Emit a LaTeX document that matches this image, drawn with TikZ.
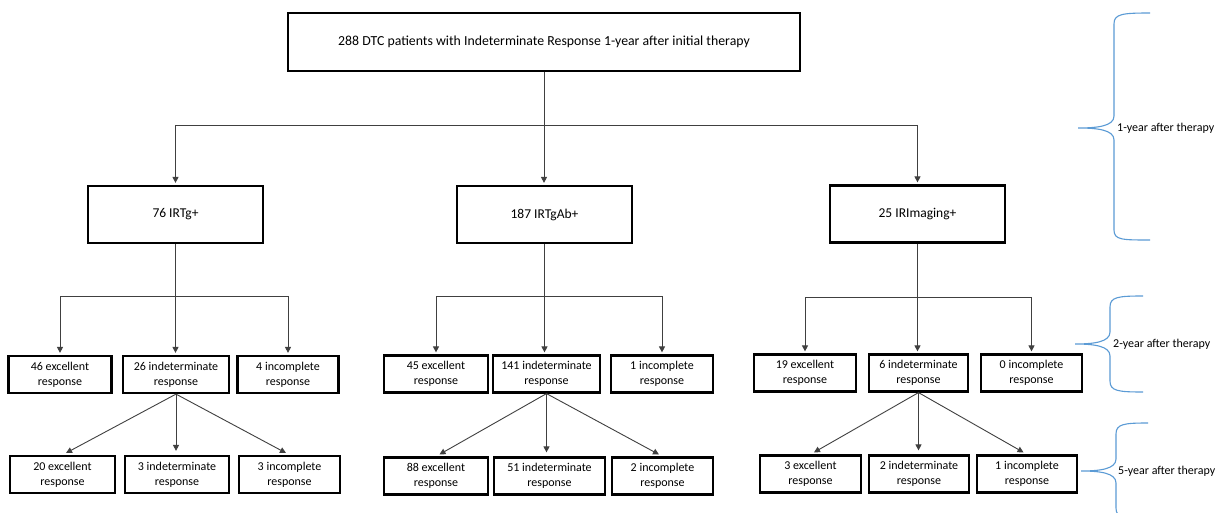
\documentclass[tikz,border=0pt]{standalone}
\usepackage{fontspec}
\setmainfont{Carlito}
\usetikzlibrary{arrows.meta}
\definecolor{bracecol}{HTML}{5B9BD5}
\definecolor{conncol}{HTML}{404040}
\begin{document}
\begin{tikzpicture}[x=1pt,y=-1pt,
  box/.style={draw=black, line width=2.2pt, fill=white, align=center, inner sep=0pt},
  topbox/.style={box, font=\fontsize{13.8}{16}\selectfont},
  midbox/.style={box, minimum width=175, minimum height=57, font=\fontsize{13.5}{16}\selectfont},
  smallbox/.style={box, minimum height=37, font=\fontsize{12}{15}\selectfont},
  conn/.style={draw=conncol, line width=0.9pt},
  arr/.style={conn, -{Triangle[length=6pt,width=6pt]}, shorten >=2pt},
  darr/.style={arr, shorten >=4pt},
  brace/.style={draw=bracecol, line width=1.1pt},
  lbl/.style={anchor=west, inner sep=0pt, font=\fontsize{12}{15}\selectfont}]
\fill[white] (0,0) rectangle (1221,513);
\clip (0,0) rectangle (1221,513);

% top
\node[topbox, minimum width=512, minimum height=58] (top) at (544,42)
  {288 DTC patients with Indeterminate Response 1-year after initial therapy};

% level 1
\node[midbox] (l1a) at (175.5,214.5) {76 IRTg+};
\node[midbox] (l1b) at (544.5,214.5) {187 IRTgAb+};
\node[midbox] (l1c) at (917.5,214) {25 IRImaging+};

% level 2
\node[smallbox, minimum width=103] (a1) at (60,374.5) {46 excellent\\response};
\node[smallbox, minimum width=106] (a2) at (176,374.5) {26 indeterminate\\response};
\node[smallbox, minimum width=101] (a3) at (288,374.5) {4 incomplete\\response};
\node[smallbox, minimum width=104] (b1) at (436,374) {45 excellent\\response};
\node[smallbox, minimum width=107] (b2) at (546.5,374) {141 indeterminate\\response};
\node[smallbox, minimum width=102] (b3) at (662,374) {1 incomplete\\response};
\node[smallbox, minimum width=102] (c1) at (805,373) {19 excellent\\response};
\node[smallbox, minimum width=99] (c2) at (918.5,373) {6 indeterminate\\response};
\node[smallbox, minimum width=101] (c3) at (1031.5,373) {0 incomplete\\response};

% level 3
\node[smallbox, minimum width=105] (a4) at (62.5,474.5) {20 excellent\\response};
\node[smallbox, minimum width=104] (a5) at (177,474.5) {3 indeterminate\\response};
\node[smallbox, minimum width=101] (a6) at (289.5,474.5) {3 incomplete\\response};
\node[smallbox, minimum width=104] (b4) at (436,476) {88 excellent\\response};
\node[smallbox, minimum width=111] (b5) at (549.5,476) {51 indeterminate\\response};
\node[smallbox, minimum width=101] (b6) at (662.5,476) {2 incomplete\\response};
\node[smallbox, minimum width=101] (c4) at (810.5,474) {3 excellent\\response};
\node[smallbox, minimum width=100] (c5) at (919,474) {2 indeterminate\\response};
\node[smallbox, minimum width=100] (c6) at (1027,474) {1 incomplete\\response};

% top -> level 1
\draw[conn] (top.south) -- (top.south |- 0,125);
\draw[conn] (l1a.north |- 0,125) -- (l1c.north |- 0,125);
\draw[arr] (l1a.north |- 0,125) -- (l1a.north);
\draw[arr] (top.south |- 0,125) -- (top.south |- l1b.north);
\draw[arr] (l1c.north |- 0,125) -- (l1c.north);

% level 1 -> level 2
\draw[conn] (l1a.south) -- (l1a.south |- 0,296);
\draw[conn] (a1.north |- 0,296) -- (a3.north |- 0,296);
\draw[arr] (a1.north |- 0,296) -- (a1.north);
\draw[arr] (l1a.south |- 0,296) -- (l1a.south |- a2.north);
\draw[arr] (a3.north |- 0,296) -- (a3.north);

\draw[conn] (l1b.south) -- (l1b.south |- 0,296);
\draw[conn] (b1.north |- 0,296) -- (b3.north |- 0,296);
\draw[arr] (b1.north |- 0,296) -- (b1.north);
\draw[arr] (l1b.south |- 0,296) -- (l1b.south |- b2.north);
\draw[arr] (b3.north |- 0,296) -- (b3.north);

\draw[conn] (l1c.south) -- (l1c.south |- 0,297);
\draw[conn] (c1.north |- 0,297) -- (c3.north |- 0,297);
\draw[arr] (c1.north |- 0,297) -- (c1.north);
\draw[arr] (l1c.south |- 0,297) -- (l1c.south |- c2.north);
\draw[arr] (c3.north |- 0,297) -- (c3.north);

% level 2 -> level 3
\draw[darr] (a2.south) -- (a4.north);
\draw[darr] (a2.south) -- (a2.south |- a5.north);
\draw[darr] (a2.south) -- (a6.north);
\draw[darr] (b2.south) -- (b4.north);
\draw[darr] (b2.south) -- (b2.south |- b5.north);
\draw[darr] (b2.south) -- (b6.north);
\draw[darr] (c2.south) -- (c4.north);
\draw[darr] (c2.south) -- (c2.south |- c5.north);
\draw[darr] (c2.south) -- (c6.north);

% braces
\draw[brace] (1150,13) .. controls (1122,13) and (1114,14) .. (1114,24) -- (1114,116)
  .. controls (1114,126) and (1098,128) .. (1078,128)
  .. controls (1098,128) and (1114,130) .. (1114,140) -- (1114,230)
  .. controls (1114,240) and (1122,240) .. (1150,240);
\node[lbl] (t1) at (1117,128) {1-year after therapy};

\draw[brace] (1143,296) .. controls (1118,296) and (1110,297) .. (1110,307) -- (1110,332)
  .. controls (1110,342) and (1094,344) .. (1075,344)
  .. controls (1094,344) and (1110,346) .. (1110,356) -- (1110,381)
  .. controls (1110,391) and (1118,392) .. (1143,392);
\node[lbl] (t2) at (1113,344) {2-year after therapy};

\draw[brace] (1148,423) .. controls (1124,423) and (1116,424) .. (1116,434) -- (1116,459)
  .. controls (1116,469) and (1100,471) .. (1081,471)
  .. controls (1100,471) and (1116,473) .. (1116,483) -- (1116,508)
  .. controls (1116,518) and (1124,519) .. (1148,519);
\node[lbl] (t3) at (1118,471) {5-year after therapy};
\end{tikzpicture}
\end{document}
